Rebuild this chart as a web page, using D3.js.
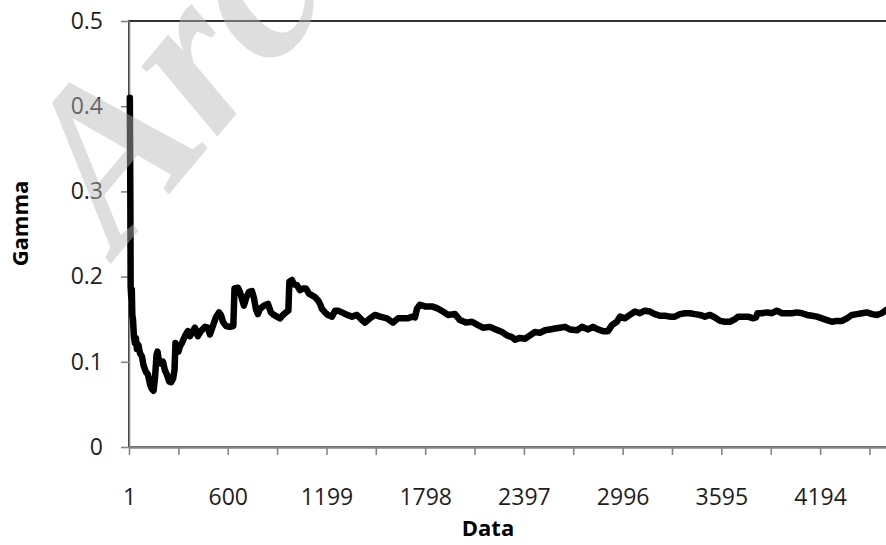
<!DOCTYPE html>
<html>
<head>
<meta charset="utf-8">
<script src="https://cdn.jsdelivr.net/npm/d3@7"></script>
<style>
  body { margin: 0; background: #fff; }
  svg { display: block; }
</style>
</head>
<body>
<svg id="chart" width="886" height="545"></svg>
<script>
// Running estimate of gamma against the number of data points
const dataIndex = [
  6, 9, 11, 15, 18, 21, 25, 31, 37, 43, 49, 58, 68, 80, 89, 104, 116, 128, 140, 150,
  159, 168, 174, 183, 195, 207, 219, 231, 244, 256, 268, 277, 283, 292, 301, 310, 322, 340, 358, 371,
  383, 401, 419, 437, 462, 480, 492, 510, 528, 547, 559, 571, 589, 613, 634, 641, 662, 674, 686, 698,
  714, 729, 747, 759, 771, 783, 795, 813, 832, 844, 862, 880, 898, 917, 935, 953, 968, 974, 990, 1002,
  1020, 1038, 1057, 1075, 1093, 1111, 1129, 1148, 1160, 1172, 1190, 1208, 1233, 1251, 1269, 1293, 1324, 1354, 1384, 1414,
  1433, 1463, 1493, 1524, 1566, 1603, 1633, 1657, 1694, 1718, 1736, 1748, 1766, 1797, 1839, 1869, 1906, 1936, 1979, 2009,
  2045, 2082, 2118, 2148, 2191, 2227, 2264, 2294, 2324, 2343, 2373, 2403, 2434, 2464, 2494, 2525, 2555, 2585, 2616, 2646,
  2676, 2719, 2749, 2786, 2816, 2846, 2877, 2907, 2931, 2961, 2980, 3010, 3040, 3071, 3101, 3131, 3162, 3192, 3222, 3253,
  3283, 3313, 3344, 3374, 3404, 3435, 3465, 3495, 3526, 3556, 3587, 3617, 3647, 3678, 3696, 3726, 3757, 3787, 3805, 3814,
  3841, 3872, 3902, 3932, 3963, 3993, 4023, 4054, 4084, 4114, 4145, 4175, 4205, 4236, 4266, 4296, 4327, 4357, 4387, 4418,
  4448, 4478, 4509, 4539, 4569, 4597
];
const gammaValues = [
  0.410, 0.300, 0.188, 0.175, 0.185, 0.155, 0.150, 0.130, 0.122, 0.128, 0.115, 0.120, 0.110, 0.106, 0.096, 0.088, 0.085, 0.074, 0.068, 0.066,
  0.082, 0.108, 0.112, 0.100, 0.098, 0.100, 0.090, 0.085, 0.077, 0.076, 0.080, 0.090, 0.122, 0.118, 0.112, 0.118, 0.122, 0.130, 0.136, 0.130,
  0.134, 0.140, 0.130, 0.136, 0.141, 0.140, 0.132, 0.142, 0.152, 0.158, 0.155, 0.147, 0.142, 0.141, 0.142, 0.186, 0.187, 0.182, 0.174, 0.166,
  0.176, 0.182, 0.183, 0.175, 0.162, 0.156, 0.162, 0.165, 0.167, 0.168, 0.158, 0.155, 0.153, 0.151, 0.155, 0.158, 0.160, 0.194, 0.196, 0.191,
  0.190, 0.184, 0.186, 0.186, 0.180, 0.178, 0.176, 0.172, 0.168, 0.162, 0.158, 0.155, 0.153, 0.160, 0.160, 0.158, 0.155, 0.153, 0.155, 0.149,
  0.146, 0.151, 0.155, 0.153, 0.151, 0.146, 0.151, 0.151, 0.151, 0.153, 0.152, 0.162, 0.167, 0.165, 0.165, 0.163, 0.159, 0.155, 0.156, 0.149,
  0.146, 0.147, 0.143, 0.140, 0.141, 0.138, 0.135, 0.131, 0.129, 0.126, 0.128, 0.127, 0.131, 0.135, 0.134, 0.137, 0.138, 0.139, 0.140, 0.141,
  0.138, 0.137, 0.141, 0.138, 0.141, 0.138, 0.136, 0.136, 0.143, 0.147, 0.153, 0.151, 0.155, 0.159, 0.157, 0.160, 0.159, 0.156, 0.154, 0.154,
  0.153, 0.153, 0.156, 0.157, 0.157, 0.156, 0.155, 0.153, 0.155, 0.152, 0.148, 0.147, 0.147, 0.150, 0.153, 0.153, 0.153, 0.151, 0.152, 0.157,
  0.157, 0.158, 0.157, 0.160, 0.157, 0.157, 0.157, 0.158, 0.157, 0.155, 0.154, 0.153, 0.151, 0.149, 0.147, 0.148, 0.148, 0.151, 0.155, 0.156,
  0.157, 0.158, 0.156, 0.155, 0.157, 0.161
];

const yTickValues = [0, 0.1, 0.2, 0.3, 0.4, 0.5];
const xLabelValues = [1, 600, 1199, 1798, 2397, 2996, 3595, 4194];
// tick marks fall on every label and halfway between labels
const xTickValues = [1, 300.5, 600, 899.5, 1199, 1498.5, 1798, 2097.5, 2397, 2696.5, 2996, 3295.5, 3595, 3894.5, 4194, 4493.5];
const xDomain = [1, 4600];
const yDomain = [0, 0.5];

const FONT = "'Open Sans', 'Liberation Sans', sans-serif";
const svg = d3.select('#chart');
svg.append('rect').attr('width', 886).attr('height', 545).attr('fill', '#fff');

const plot = { left: 129, top: 21, right: 887, bottom: 447 };
const x = d3.scaleLinear().domain(xDomain).range([plot.left, plot.right]);
const y = d3.scaleLinear().domain(yDomain).range([plot.bottom, plot.top]);

// plot-area frame
svg.append('rect')
  .attr('x', plot.left).attr('y', plot.top)
  .attr('width', plot.right - plot.left).attr('height', plot.bottom - plot.top)
  .attr('fill', 'none').attr('stroke', '#000').attr('stroke-width', 1.6);

// y axis
const yAxis = svg.append('g')
  .attr('transform', `translate(${plot.left},0)`)
  .call(d3.axisLeft(y).tickValues(yTickValues).tickSize(8).tickSizeOuter(0).tickPadding(18)
    .tickFormat(d => String(d)));
yAxis.select('.domain').attr('stroke', '#868686').attr('stroke-width', 1.6);
yAxis.selectAll('.tick line').attr('stroke', '#868686').attr('stroke-width', 1.6);
yAxis.selectAll('.tick text').attr('font-family', FONT).attr('font-size', 23).attr('fill', '#1e1e1e');

// x axis: tick marks
const xAxis = svg.append('g')
  .attr('transform', `translate(0,${plot.bottom})`)
  .call(d3.axisBottom(x).tickValues(xTickValues).tickSize(8).tickSizeOuter(0).tickFormat(''));
xAxis.select('.domain').attr('stroke', '#868686').attr('stroke-width', 2.6);
xAxis.selectAll('.tick line').attr('stroke', '#868686').attr('stroke-width', 1.6);

// x axis: labels
const xLabels = svg.append('g')
  .attr('transform', `translate(0,${plot.bottom})`)
  .call(d3.axisBottom(x).tickValues(xLabelValues).tickSize(0).tickPadding(42).tickFormat(d => String(d)));
xLabels.select('.domain').remove();
xLabels.selectAll('.tick text').attr('font-family', FONT).attr('font-size', 23).attr('fill', '#1e1e1e');

// gamma series
const points = dataIndex.map((d, i) => ({ i: d, g: gammaValues[i] }));
const line = d3.line().x(d => x(d.i)).y(d => y(d.g));
svg.append('path')
  .datum(points)
  .attr('d', line)
  .attr('fill', 'none')
  .attr('stroke', '#000')
  .attr('stroke-width', 6.5)
  .attr('stroke-linejoin', 'round')
  .attr('stroke-linecap', 'round');

// axis titles
svg.append('text')
  .attr('transform', 'translate(28,223.5) rotate(-90)')
  .attr('text-anchor', 'middle')
  .attr('font-family', FONT).attr('font-size', 22).attr('font-weight', 'bold')
  .attr('fill', '#000')
  .text('Gamma');
svg.append('text')
  .attr('x', 488).attr('y', 536)
  .attr('text-anchor', 'middle')
  .attr('font-family', FONT).attr('font-size', 22).attr('font-weight', 'bold')
  .attr('fill', '#000')
  .text('Data');

// faint diagonal watermark
svg.append('text')
  .attr('transform', 'translate(118,255) rotate(-50)')
  .attr('font-family', "'Liberation Serif', 'DejaVu Serif', serif")
  .attr('font-style', 'italic').attr('font-weight', 'bold')
  .attr('font-size', 225)
  .attr('fill', 'rgb(184,184,184)').attr('fill-opacity', 0.46)
  .text('Archive of SID');
</script>
</body>
</html>
